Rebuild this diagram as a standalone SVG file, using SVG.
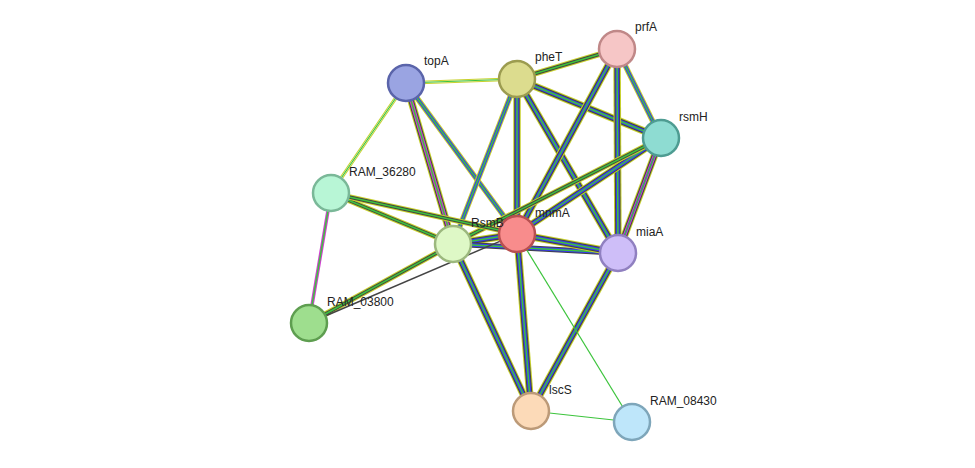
<svg xmlns="http://www.w3.org/2000/svg" xmlns:xlink="http://www.w3.org/1999/xlink" width="975" height="468" viewBox="0 0 975 468">
<style>
.y{stroke:#c7d12c;fill:none}
.g{stroke:#3cc43c;fill:none}
.b{stroke:#3a3af0;fill:none}
.k{stroke:#444;fill:none}
.m{stroke:#d23cd2;fill:none}
.wt{stroke:#fff;fill:none}
.w8{stroke-width:7.5}.w6{stroke-width:5.5}.w4{stroke-width:3.5}.w2{stroke-width:1.5}.w1{stroke-width:1.2}
.n{stroke-width:2.5}
text{font-family:"Liberation Sans",Arial,sans-serif;font-size:12px;fill:#222}
</style>
<defs>
<line id="e1" x1="406" y1="83" x2="517" y2="79"/>
<line id="e2" x1="406" y1="83" x2="331" y2="193"/>
<line id="e3" x1="406" y1="83" x2="453" y2="244"/>
<line id="e4" x1="406" y1="83" x2="517" y2="234"/>
<line id="e5" x1="517" y1="79" x2="617" y2="49"/>
<line id="e6" x1="517" y1="79" x2="661" y2="138"/>
<line id="e7" x1="517" y1="79" x2="618" y2="253"/>
<line id="e8" x1="517" y1="79" x2="517" y2="234"/>
<line id="e9" x1="517" y1="79" x2="453" y2="244"/>
<line id="e10" x1="617" y1="49" x2="661" y2="138"/>
<line id="e11" x1="617" y1="49" x2="618" y2="253"/>
<line id="e12" x1="617" y1="49" x2="517" y2="234"/>
<line id="e13" x1="661" y1="138" x2="517" y2="234"/>
<line id="e14" x1="661" y1="138" x2="453" y2="244"/>
<line id="e15" x1="661" y1="138" x2="618" y2="253"/>
<line id="e16" x1="331" y1="193" x2="453" y2="244"/>
<line id="e17" x1="331" y1="193" x2="517" y2="234"/>
<line id="e18" x1="331" y1="193" x2="309" y2="323"/>
<line id="e19" x1="453" y1="244" x2="517" y2="234"/>
<line id="e20" x1="453" y1="244" x2="618" y2="253"/>
<line id="e21" x1="517" y1="234" x2="618" y2="253"/>
<line id="e22" x1="453" y1="244" x2="309" y2="323"/>
<line id="e23" x1="517" y1="234" x2="309" y2="323"/>
<line id="e24" x1="453" y1="244" x2="531" y2="411"/>
<line id="e25" x1="517" y1="234" x2="531" y2="411"/>
<line id="e26" x1="618" y1="253" x2="531" y2="411"/>
<line id="e27" x1="517" y1="234" x2="632" y2="422"/>
<line id="e28" x1="531" y1="411" x2="632" y2="422"/>
</defs>
<rect width="975" height="468" fill="#fff"/>
<g id="connectors">
<use xlink:href="#e1" class="y w4"/><use xlink:href="#e1" class="wt w2"/><use xlink:href="#e1" class="g w1"/>
<use xlink:href="#e2" class="y w4"/><use xlink:href="#e2" class="wt w2"/><use xlink:href="#e2" class="g w1"/>
<use xlink:href="#e3" class="y w8"/><use xlink:href="#e3" class="k w6"/><use xlink:href="#e3" class="m w4"/><use xlink:href="#e3" class="g w2"/>
<use xlink:href="#e4" class="y w6"/><use xlink:href="#e4" class="b w4"/><use xlink:href="#e4" class="g w2"/>
<use xlink:href="#e5" class="y w6"/><use xlink:href="#e5" class="k w4"/><use xlink:href="#e5" class="g w2"/>
<use xlink:href="#e6" class="y w8"/><use xlink:href="#e6" class="k w6"/><use xlink:href="#e6" class="b w4"/><use xlink:href="#e6" class="g w2"/>
<use xlink:href="#e7" class="y w8"/><use xlink:href="#e7" class="k w6"/><use xlink:href="#e7" class="b w4"/><use xlink:href="#e7" class="g w2"/>
<use xlink:href="#e8" class="y w8"/><use xlink:href="#e8" class="k w6"/><use xlink:href="#e8" class="b w4"/><use xlink:href="#e8" class="g w2"/>
<use xlink:href="#e9" class="y w6"/><use xlink:href="#e9" class="b w4"/><use xlink:href="#e9" class="g w2"/>
<use xlink:href="#e10" class="y w6"/><use xlink:href="#e10" class="b w4"/><use xlink:href="#e10" class="g w2"/>
<use xlink:href="#e11" class="y w8"/><use xlink:href="#e11" class="k w6"/><use xlink:href="#e11" class="b w4"/><use xlink:href="#e11" class="g w2"/>
<use xlink:href="#e12" class="y w8"/><use xlink:href="#e12" class="k w6"/><use xlink:href="#e12" class="b w4"/><use xlink:href="#e12" class="g w2"/>
<use xlink:href="#e13" class="y w8"/><use xlink:href="#e13" class="k w6"/><use xlink:href="#e13" class="b w4"/><use xlink:href="#e13" class="g w2"/>
<use xlink:href="#e14" class="y w6"/><use xlink:href="#e14" class="k w4"/><use xlink:href="#e14" class="g w2"/>
<use xlink:href="#e15" class="y w8"/><use xlink:href="#e15" class="k w6"/><use xlink:href="#e15" class="m w4"/><use xlink:href="#e15" class="b w2"/><use xlink:href="#e15" class="g w1"/>
<use xlink:href="#e16" class="y w6"/><use xlink:href="#e16" class="k w4"/><use xlink:href="#e16" class="g w2"/>
<use xlink:href="#e17" class="y w6"/><use xlink:href="#e17" class="k w4"/><use xlink:href="#e17" class="g w2"/>
<use xlink:href="#e18" class="m w4"/><use xlink:href="#e18" class="g w2"/>
<use xlink:href="#e19" class="y w8"/><use xlink:href="#e19" class="k w6"/><use xlink:href="#e19" class="b w4"/><use xlink:href="#e19" class="g w2"/>
<use xlink:href="#e20" class="k w6"/><use xlink:href="#e20" class="b w4"/><use xlink:href="#e20" class="g w2"/>
<use xlink:href="#e21" class="y w8"/><use xlink:href="#e21" class="k w6"/><use xlink:href="#e21" class="b w4"/><use xlink:href="#e21" class="g w2"/>
<use xlink:href="#e22" class="y w6"/><use xlink:href="#e22" class="k w4"/><use xlink:href="#e22" class="g w2"/>
<use xlink:href="#e23" class="k w2"/>
<use xlink:href="#e24" class="y w8"/><use xlink:href="#e24" class="k w6"/><use xlink:href="#e24" class="b w4"/><use xlink:href="#e24" class="g w2"/>
<use xlink:href="#e25" class="y w8"/><use xlink:href="#e25" class="k w6"/><use xlink:href="#e25" class="b w4"/><use xlink:href="#e25" class="g w2"/>
<use xlink:href="#e26" class="y w8"/><use xlink:href="#e26" class="k w6"/><use xlink:href="#e26" class="b w4"/><use xlink:href="#e26" class="g w2"/>
<use xlink:href="#e27" class="g w1"/>
<use xlink:href="#e28" class="g w1"/>
</g>
<g id="topA"><circle cx="406" cy="83" r="18" fill="#9aa4e2" stroke="#5a64aa" class="n"/><text x="424" y="65">topA</text></g>
<g id="pheT"><circle cx="517" cy="79" r="18" fill="#dcdc8e" stroke="#9c9c50" class="n"/><text x="535" y="61">pheT</text></g>
<g id="prfA"><circle cx="617" cy="49" r="18" fill="#f6c6c6" stroke="#c08888" class="n"/><text x="635" y="31">prfA</text></g>
<g id="rsmH"><circle cx="661" cy="138" r="18" fill="#8edcd2" stroke="#4e9c92" class="n"/><text x="679" y="121">rsmH</text></g>
<g id="RAM_36280"><circle cx="331" cy="193" r="18" fill="#b8f6d6" stroke="#7ab898" class="n"/><text x="349" y="176">RAM_36280</text></g>
<g id="mnmA"><circle cx="517" cy="234" r="18" fill="#f88c8c" stroke="#b85050" class="n"/><text x="535" y="217">mnmA</text></g>
<g id="RsmB"><circle cx="453" cy="244" r="18" fill="#def8c6" stroke="#9cb87e" class="n"/><text x="471" y="227">RsmB</text></g>
<g id="miaA"><circle cx="618" cy="253" r="18" fill="#cebef8" stroke="#9080c0" class="n"/><text x="636" y="236">miaA</text></g>
<g id="RAM_03800"><circle cx="309" cy="323" r="18" fill="#9ede8e" stroke="#5e9e50" class="n"/><text x="327" y="306">RAM_03800</text></g>
<g id="lscS"><circle cx="531" cy="411" r="18" fill="#fcdab8" stroke="#bc9a78" class="n"/><text x="549" y="394">lscS</text></g>
<g id="RAM_08430"><circle cx="632" cy="422" r="18" fill="#bee6fa" stroke="#7ea6ba" class="n"/><text x="650" y="405">RAM_08430</text></g>
</svg>
